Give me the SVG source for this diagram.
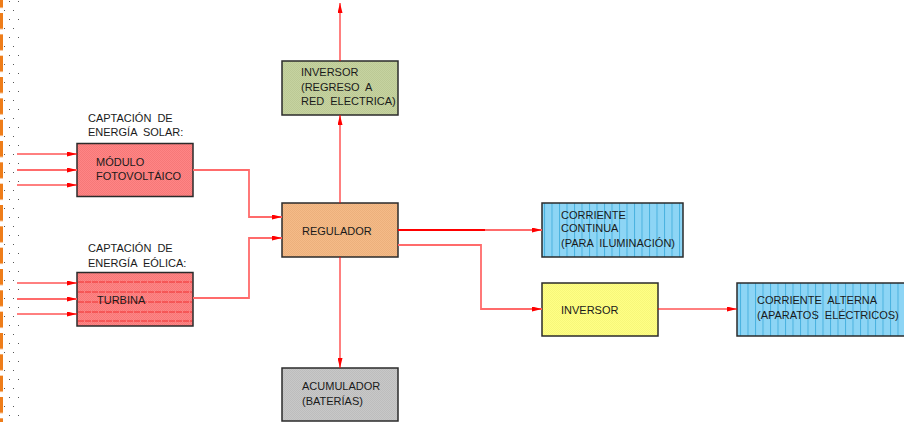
<svg xmlns="http://www.w3.org/2000/svg" width="904" height="422" viewBox="0 0 904 422">
<style>
  .lbl{font-family:"Liberation Sans",Arial,sans-serif;font-size:11px;fill:#1a1a1a;word-spacing:3px}
  .box{stroke:#2b2b2b;stroke-width:1.5}
  .wire{fill:none;stroke:#ff0000;stroke-width:1}
  .wire2{fill:none;stroke:#ff6b6b;stroke-width:1.8}
  .hl{stroke:#f03030;stroke-width:1;stroke-dasharray:6 1}
</style>
<defs>
  <marker id="arr" viewBox="0 0 10 5" refX="10" refY="2.5" markerWidth="10" markerHeight="5" markerUnits="userSpaceOnUse" orient="auto">
    <path d="M0,0 L10,2.5 L0,5 Z" fill="#ff0000"/>
  </marker>
  <pattern id="pink" width="2" height="2" patternUnits="userSpaceOnUse">
    <rect width="2" height="2" fill="#ff8585"/>
    <rect width="1" height="1" fill="#f67878"/>
    <rect x="1" y="1" width="1" height="1" fill="#f67878"/>
  </pattern>
  <pattern id="peach" width="2" height="2" patternUnits="userSpaceOnUse">
    <rect width="2" height="2" fill="#f5bb88"/>
    <rect width="1" height="1" fill="#ecb07c"/>
    <rect x="1" y="1" width="1" height="1" fill="#ecb07c"/>
  </pattern>
  <pattern id="olive" width="2" height="2" patternUnits="userSpaceOnUse">
    <rect width="2" height="2" fill="#c6d3a0"/>
    <rect width="1" height="1" fill="#bcc995"/>
    <rect x="1" y="1" width="1" height="1" fill="#bcc995"/>
  </pattern>
  <pattern id="grey" width="2" height="2" patternUnits="userSpaceOnUse">
    <rect width="2" height="2" fill="#c8c8c8"/>
    <rect width="1" height="1" fill="#bdbdbd"/>
    <rect x="1" y="1" width="1" height="1" fill="#bdbdbd"/>
  </pattern>
  <pattern id="yellow" width="2" height="2" patternUnits="userSpaceOnUse">
    <rect width="2" height="2" fill="#ffff85"/>
    <rect width="1" height="1" fill="#f7f77a"/>
    <rect x="1" y="1" width="1" height="1" fill="#f7f77a"/>
  </pattern>
  <pattern id="blueA" x="551.5" y="0" width="7.5" height="4" patternUnits="userSpaceOnUse">
    <rect width="7.5" height="4" fill="#8dd5f5"/>
    <rect width="1" height="4" fill="#49b2df"/>
  </pattern>
  <pattern id="blueB" x="747.5" y="0" width="7.5" height="4" patternUnits="userSpaceOnUse">
    <rect width="7.5" height="4" fill="#8dd5f5"/>
    <rect width="1" height="4" fill="#49b2df"/>
  </pattern>
  <pattern id="edge" x="0" y="-8.3" width="4" height="21.33" patternUnits="userSpaceOnUse">
    <rect x="0" y="0" width="3" height="16" fill="#ee7d1a"/>
  </pattern>
  <pattern id="dots" x="0" y="0" width="20" height="18" patternUnits="userSpaceOnUse">
    <rect x="9" y="1" width="1" height="1" fill="#555"/>
    <rect x="18" y="1" width="1" height="1" fill="#555"/>
    <rect x="4" y="10" width="1" height="1" fill="#555"/>
    <rect x="13" y="10" width="1" height="1" fill="#555"/>
  </pattern>
</defs>

<rect width="904" height="422" fill="#ffffff"/>
<rect x="0" y="0" width="4" height="422" fill="url(#edge)"/>
<rect x="3" y="0" width="17" height="422" fill="url(#dots)"/>

<g id="solar">
  <text class="lbl" x="88" y="122">CAPTACIÓN DE</text>
  <text class="lbl" x="88" y="136">ENERGÍA SOLAR:</text>
  <rect class="box" x="77" y="143.5" width="116" height="53" fill="url(#pink)"/>
  <text class="lbl" x="96" y="166">MÓDULO</text>
  <text class="lbl" x="96" y="180">FOTOVOLTÁICO</text>
</g>

<g id="eolica">
  <text class="lbl" x="88" y="252">CAPTACIÓN DE</text>
  <text class="lbl" x="88" y="267">ENERGÍA EÓLICA:</text>
  <rect class="box" x="77" y="272.5" width="116" height="53.5" fill="url(#pink)"/>
  <line class="hl" x1="78" y1="282" x2="192" y2="282"/>
  <line class="hl" x1="78" y1="292" x2="192" y2="292"/>
  <line class="hl" x1="78" y1="302" x2="192" y2="302"/>
  <line class="hl" x1="78" y1="312" x2="192" y2="312"/>
  <line class="hl" x1="78" y1="321" x2="192" y2="321"/>
  <text class="lbl" x="97" y="304">TURBINA</text>
</g>

<g id="inversor-red">
  <rect class="box" x="282" y="61" width="116" height="54" fill="url(#olive)"/>
  <text class="lbl" x="301" y="76">INVERSOR</text>
  <text class="lbl" x="301" y="91">(REGRESO A</text>
  <text class="lbl" x="301" y="105">RED ELECTRICA)</text>
</g>

<g id="regulador">
  <rect class="box" x="282" y="203" width="116" height="54" fill="url(#peach)"/>
  <text class="lbl" x="302" y="235">REGULADOR</text>
</g>

<g id="acumulador">
  <rect class="box" x="282" y="368" width="116" height="53" fill="url(#grey)"/>
  <text class="lbl" x="302" y="390">ACUMULADOR</text>
  <text class="lbl" x="302" y="405">(BATERÍAS)</text>
</g>

<g id="corriente-continua">
  <rect class="box" x="542" y="203" width="141" height="54" fill="url(#blueA)" stroke="#20404a"/>
  <text class="lbl" x="561" y="219">CORRIENTE</text>
  <text class="lbl" x="561" y="232">CONTINUA</text>
  <text class="lbl" x="561" y="247">(PARA ILUMINACIÓN)</text>
</g>

<g id="inversor">
  <rect class="box" x="542" y="283" width="116" height="53" fill="url(#yellow)" stroke="#4a4a20"/>
  <text class="lbl" x="561" y="314">INVERSOR</text>
</g>

<g id="corriente-alterna">
  <rect class="box" x="737" y="283" width="170" height="53" fill="url(#blueB)" stroke="#20404a"/>
  <text class="lbl" x="757" y="304">CORRIENTE ALTERNA</text>
  <text class="lbl" x="757" y="319">(APARATOS ELÉCTRICOS)</text>
</g>

<g id="connectors">
  <path class="wire" d="M17,154 H77" marker-end="url(#arr)"/>
  <path class="wire2" d="M17,170 H77" marker-end="url(#arr)"/>
  <path class="wire" d="M17,185 H77" marker-end="url(#arr)"/>
  <path class="wire" d="M17,283 H77" marker-end="url(#arr)"/>
  <path class="wire2" d="M17,299 H77" marker-end="url(#arr)"/>
  <path class="wire" d="M17,314 H77" marker-end="url(#arr)"/>
  <path class="wire2" d="M193,170 H249 V217 H282" marker-end="url(#arr)"/>
  <path class="wire2" d="M193,298 H249 V238 H282" marker-end="url(#arr)"/>
  <path class="wire" d="M340,203 V115" marker-end="url(#arr)"/>
  <path class="wire" d="M340,61 V3" marker-end="url(#arr)"/>
  <path class="wire" d="M340,257 V368" marker-end="url(#arr)"/>
  <path d="M398,230 H485" fill="none" stroke="#ff0000" stroke-width="2.2"/>
  <path class="wire2" d="M485,230 H542" marker-end="url(#arr)"/>
  <path class="wire2" d="M398,245 H481 V309 H542" marker-end="url(#arr)"/>
  <path class="wire" d="M658,309 H737" marker-end="url(#arr)"/>
</g>
</svg>
